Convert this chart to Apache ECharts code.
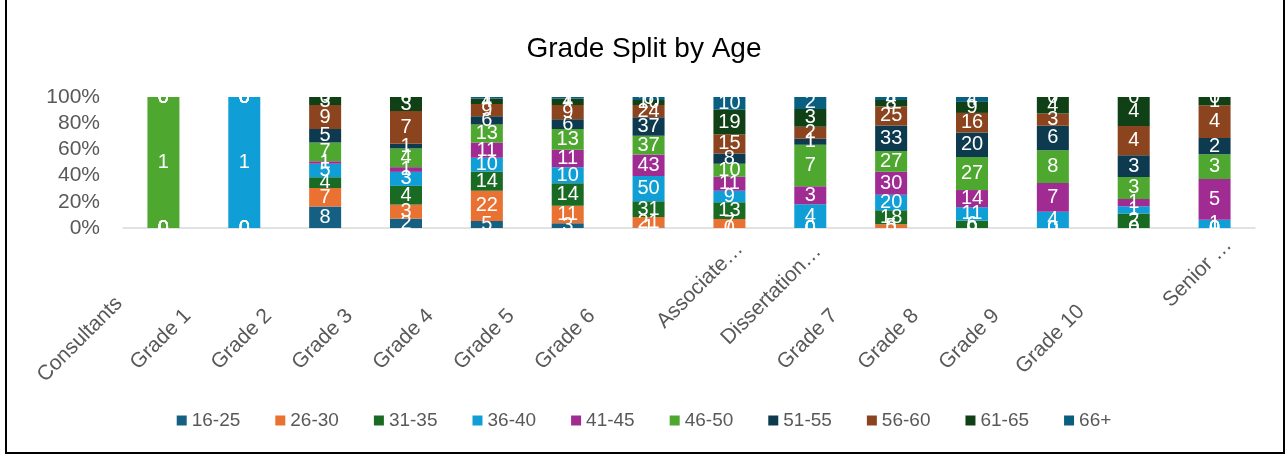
<!DOCTYPE html>
<html>
<head>
<meta charset="utf-8">
<title>Grade Split by Age</title>
<script src="https://cdn.jsdelivr.net/npm/echarts@6.0.0/dist/echarts.min.js"></script>
<style>
  html, body { margin: 0; padding: 0; background: #fff; }
  #wrap { position: relative; width: 1288px; height: 457px; }
  #chart { width: 1288px; height: 457px; }
  #frame {
    position: absolute; left: 5px; top: -2px; width: 1276px; height: 452px;
    border: 2px solid #000; pointer-events: none;
  }
</style>
</head>
<body>
<div id="wrap">
  <div id="chart"></div>
  <div id="frame"></div>
</div>
<script>
const categories = [
  'Consultants', 'Grade 1', 'Grade 2', 'Grade 3', 'Grade 4', 'Grade 5', 'Grade 6',
  'Associate…', 'Dissertation…', 'Grade 7', 'Grade 8', 'Grade 9', 'Grade 10', 'Senior …',
];

const ageGroups = ['16-25', '26-30', '31-35', '36-40', '41-45', '46-50', '51-55', '56-60', '61-65', '66+'];

// head counts per age group, one value per category
const age16to25 = [0, 0, 8, 2, 5, 3, 1, 0, 0, 0, 0, 0, 0, 0];
const age26to30 = [0, 0, 7, 3, 22, 11, 21, 7, 0, 5, 0, 0, 0, 0];
const age31to35 = [0, 0, 4, 4, 14, 14, 31, 13, 0, 18, 6, 0, 2, 0];
const age36to40 = [0, 1, 5, 3, 10, 10, 50, 9, 4, 20, 11, 4, 1, 1];
const age41to45 = [0, 0, 1, 1, 11, 11, 43, 11, 3, 30, 14, 7, 1, 5];
const age46to50 = [1, 0, 7, 4, 13, 13, 37, 10, 7, 27, 27, 8, 3, 3];
const age51to55 = [0, 0, 5, 1, 6, 6, 37, 8, 1, 33, 20, 6, 3, 2];
const age56to60 = [0, 0, 9, 7, 9, 9, 24, 15, 2, 25, 16, 3, 4, 4];
const age61to65 = [0, 0, 3, 3, 4, 4, 10, 19, 3, 8, 9, 4, 4, 1];
const age66plus = [0, 0, 0, 0, 1, 1, 6, 10, 2, 4, 4, 0, 0, 0];

const yTicks = [0, 20, 40, 60, 80, 100];

const counts = [
  age16to25, age26to30, age31to35, age36to40, age41to45,
  age46to50, age51to55, age56to60, age61to65, age66plus,
];

const colors = [
  '#156082', '#E97132', '#196B24', '#0F9ED5', '#A02B93',
  '#4EA72E', '#0D3A4E', '#8C441E', '#0F4016', '#095F80',
];

const totals = categories.map((_, i) => counts.reduce((s, arr) => s + arr[i], 0));

const font = '"Liberation Sans", Arial, sans-serif';
const grey = '#595959';

const chartDom = document.getElementById('chart');
const myChart = echarts.init(chartDom, null, { renderer: 'canvas' });

// Excel puts the rotated labels in odd spots, nudge them with padding
const labelStyle = (pad) => ({
  fontFamily: font,
  fontSize: 21,
  color: grey,
  padding: [0, pad, 0, 0],
});

const labelKey = (name) => {
  if (name.startsWith('Associate')) return 'a';
  if (name.startsWith('Dissertation')) return 'd';
  if (name.startsWith('Senior')) return 's';
  return 'g';
};

const option = {
  animation: false,
  backgroundColor: '#fff',
  title: {
    text: 'Grade Split by Age',
    left: 'center',
    top: 30,
    textStyle: {
      fontFamily: font,
      fontSize: 28,
      fontWeight: 'normal',
      color: '#000',
    },
  },
  legend: {
    data: ageGroups,
    left: 'center',
    top: 406,
    icon: 'rect',
    itemWidth: 10,
    itemHeight: 10,
    itemGap: 35,
    textStyle: { fontFamily: font, fontSize: 19, color: grey },
  },
  grid: {
    left: 123,
    right: 33,
    top: 97,
    bottom: 229,
  },
  xAxis: {
    type: 'category',
    data: categories,
    axisLine: { lineStyle: { color: '#D9D9D9', width: 1.5 } },
    axisTick: { show: false },
    axisLabel: {
      interval: 0,
      rotate: 45,
      margin: 28,
      align: 'center',
      verticalAlign: 'middle',
      formatter: (name) => `{${labelKey(name)}|${name}}`,
      rich: {
        g: labelStyle(236),
        a: labelStyle(83),
        d: labelStyle(110),
        s: labelStyle(48),
      },
    },
  },
  yAxis: {
    type: 'value',
    min: 0,
    max: 100,
    interval: 20,
    axisLine: { show: false },
    axisTick: { show: false },
    splitLine: { show: false },
    axisLabel: {
      margin: 23,
      fontFamily: font,
      fontSize: 21,
      color: grey,
      formatter: (v) => (yTicks.includes(v) ? v + '%' : ''),
    },
  },
  series: ageGroups.map((name, si) => ({
    name,
    type: 'bar',
    stack: 'total',
    barWidth: 32,
    itemStyle: { color: colors[si] },
    label: {
      show: true,
      position: 'inside',
      fontFamily: font,
      fontSize: 20,
      color: '#fff',
      formatter: (p) => String(counts[si][p.dataIndex]),
    },
    data: counts[si].map((v, i) => (totals[i] ? (v / totals[i]) * 100 : 0)),
  })),
};

myChart.setOption(option);
</script>
</body>
</html>
